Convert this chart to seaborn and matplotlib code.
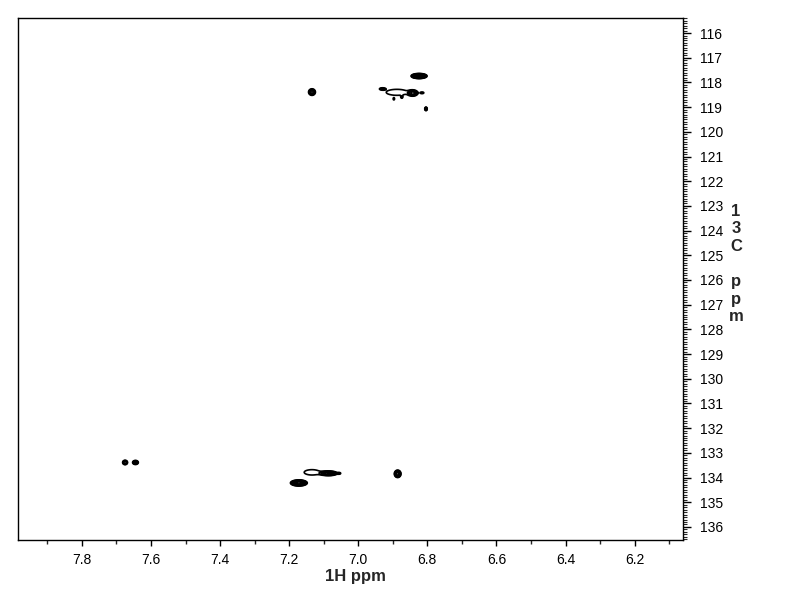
import numpy as np
import seaborn as sns
import matplotlib
matplotlib.use("Agg")
import matplotlib.pyplot as plt
from matplotlib.ticker import MultipleLocator, FormatStrFormatter

# cross peaks: 1H shift, 13C shift, widths (sigma), height
peak_h = [7.134, 6.824, 6.888, 6.842, 6.930, 6.815, 6.897, 6.874, 6.804,
          7.675, 7.645, 7.134, 7.085, 7.055, 7.172, 6.886]
peak_c = [118.39, 117.74, 118.40, 118.43, 118.26, 118.42, 118.67, 118.59, 119.07,
          133.39, 133.39, 133.79, 133.83, 133.83, 134.22, 133.85]
peak_wh = [0.006, 0.0095, 0.036, 0.007, 0.006, 0.006, 0.002, 0.002, 0.002,
           0.004, 0.005, 0.025, 0.012, 0.004, 0.0105, 0.0045]
peak_wc = [0.08, 0.042, 0.14, 0.06, 0.03, 0.04, 0.045, 0.04, 0.04,
           0.05, 0.05, 0.12, 0.045, 0.03, 0.053, 0.07]
peak_amp = [4, 20, 1.45, 6, 2, 1.2, 1.3, 1.5, 5,
            5, 4, 1.5, 8, 1.5, 15, 10]

h_range = (6.06, 7.985)
c_range = (115.39, 136.53)

sns.set_theme(style="ticks")
plt.rcParams["font.family"] = ["Liberation Sans", "DejaVu Sans"]

fig = plt.figure(figsize=(7.92, 6.12), dpi=100)
ax = fig.add_axes([18 / 792, 1 - 540 / 612, (683 - 18) / 792, (540 - 18) / 612])

h = np.linspace(h_range[0], h_range[1], 1800)
c = np.linspace(c_range[0], c_range[1], 1100)
H, C = np.meshgrid(h, c)
Z = np.zeros_like(H)
for ph, pc, wh, wc, a in zip(peak_h, peak_c, peak_wh, peak_wc, peak_amp):
    Z += a * np.exp(-0.5 * (((H - ph) / wh) ** 2 + ((C - pc) / wc) ** 2))

levels = 1.5 ** np.arange(10)
ax.contour(H, C, Z, levels=levels, colors="black", linewidths=1.2)

ax.set_xlim(h_range[1], h_range[0])
ax.set_ylim(c_range[1], c_range[0])

ax.yaxis.tick_right()
ax.xaxis.set_major_locator(MultipleLocator(0.2))
ax.xaxis.set_minor_locator(MultipleLocator(0.1))
ax.xaxis.set_major_formatter(FormatStrFormatter("%.1f"))
ax.yaxis.set_major_locator(MultipleLocator(1))
ax.yaxis.set_minor_locator(MultipleLocator(0.1))
ax.yaxis.set_major_formatter(FormatStrFormatter("%d"))

ax.tick_params(axis="x", which="major", length=4, width=1, pad=5, labelsize=10, colors="black")
ax.tick_params(axis="x", which="minor", length=3, width=1)
ax.tick_params(axis="y", which="major", length=6, width=1, pad=6, labelsize=10, colors="black")
ax.tick_params(axis="y", which="minor", length=3, width=0.8)
for s in ax.spines.values():
    s.set_color("black")
    s.set_linewidth(1)

fig.text(355 / 792, 1 - 577 / 612, "1H ppm", ha="center", va="center",
         fontsize=12, fontweight="bold")
fig.text(736 / 792, 1 - 264 / 612, "1\n3\nC\n\np\np\nm", ha="center", va="center",
         fontsize=12, fontweight="bold", linespacing=1.22)

fig.savefig("out.png", dpi=100, facecolor="white")
